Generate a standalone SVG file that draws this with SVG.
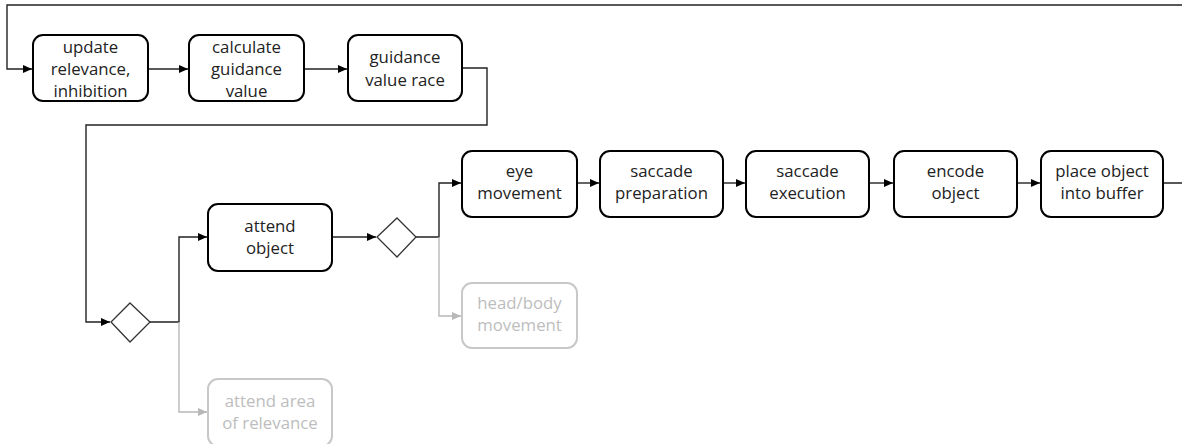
<svg xmlns="http://www.w3.org/2000/svg" width="1182" height="444" viewBox="0 0 1182 444">
<style>
.box{fill:#fff;stroke:#000;stroke-width:2}
.gbox{fill:#fff;stroke:#c8c8c8;stroke-width:2}
.dia{fill:#fff;stroke:#333;stroke-width:1.3}
.t{font-family:"Open Sans",sans-serif;font-size:16.8px;fill:#222;text-anchor:middle}
.gt{font-family:"Open Sans",sans-serif;font-size:16.8px;fill:#bdbdbd;text-anchor:middle}
.ln{fill:none;stroke:#222;stroke-width:1.4}
.gln{fill:none;stroke:#b8b8b8;stroke-width:1.4}
</style>
<defs>
<marker id="a" markerWidth="9" markerHeight="8" refX="9" refY="4" orient="auto" markerUnits="userSpaceOnUse"><path d="M0,0 L9,4 L0,8 Z" fill="#000"/></marker>
<marker id="ga" markerWidth="9" markerHeight="8" refX="9" refY="4" orient="auto" markerUnits="userSpaceOnUse"><path d="M0,0 L9,4 L0,8 Z" fill="#b8b8b8"/></marker>
</defs>
<rect width="1182" height="444" fill="#fff"/>
<g id="connectors">
<path class="ln" d="M1163,183 H1184 M1184,5 H7 V69 H32" marker-end="url(#a)"/>
<path class="ln" d="M148,69 H188" marker-end="url(#a)"/>
<path class="ln" d="M304,69 H347" marker-end="url(#a)"/>
<path class="ln" d="M462,68 H487 V125 H86 V322 H110" marker-end="url(#a)"/>
<path class="ln" d="M150,322 H179 V237 H207" marker-end="url(#a)"/>
<path class="gln" d="M179,322 V412 H207" marker-end="url(#ga)"/>
<path class="ln" d="M332,237 H376" marker-end="url(#a)"/>
<path class="ln" d="M416,237 H439 V183 H461" marker-end="url(#a)"/>
<path class="gln" d="M439,237 V316 H461" marker-end="url(#ga)"/>
<path class="ln" d="M577,183 H599" marker-end="url(#a)"/>
<path class="ln" d="M723,183 H745" marker-end="url(#a)"/>
<path class="ln" d="M869,183 H893" marker-end="url(#a)"/>
<path class="ln" d="M1017,183 H1040" marker-end="url(#a)"/>
</g>
<g id="n1"><rect class="box" x="33" y="35" width="115" height="66" rx="10"/><text class="t" x="90.5" y="53">update</text><text class="t" x="90.5" y="75">relevance,</text><text class="t" x="90.5" y="97">inhibition</text></g>
<g id="n2"><rect class="box" x="189" y="35" width="115" height="66" rx="10"/><text class="t" x="246.5" y="53">calculate</text><text class="t" x="246.5" y="75">guidance</text><text class="t" x="246.5" y="97">value</text></g>
<g id="n3"><rect class="box" x="348" y="35" width="114" height="66" rx="10"/><text class="t" x="405" y="63">guidance</text><text class="t" x="405" y="86">value race</text></g>
<g id="d1"><path class="dia" d="M130,303 L150,322 L130,342 L111,322 Z"/></g>
<g id="n4"><rect class="box" x="208" y="204" width="124" height="67" rx="10"/><text class="t" x="270" y="232">attend</text><text class="t" x="270" y="254">object</text></g>
<g id="n5"><rect class="gbox" x="208" y="379" width="124" height="67" rx="10"/><text class="gt" x="270" y="407">attend area</text><text class="gt" x="270" y="429">of relevance</text></g>
<g id="d2"><path class="dia" d="M397,218 L416,237 L397,257 L377,237 Z"/></g>
<g id="n6"><rect class="box" x="462" y="151" width="115" height="66" rx="10"/><text class="t" x="519.5" y="177">eye</text><text class="t" x="519.5" y="199">movement</text></g>
<g id="n7"><rect class="gbox" x="462" y="283" width="115" height="65" rx="10"/><text class="gt" x="519.5" y="309">head/body</text><text class="gt" x="519.5" y="331">movement</text></g>
<g id="n8"><rect class="box" x="600" y="151" width="123" height="66" rx="10"/><text class="t" x="661.5" y="177">saccade</text><text class="t" x="661.5" y="199">preparation</text></g>
<g id="n9"><rect class="box" x="746" y="151" width="123" height="66" rx="10"/><text class="t" x="807.5" y="177">saccade</text><text class="t" x="807.5" y="199">execution</text></g>
<g id="n10"><rect class="box" x="894" y="151" width="123" height="66" rx="10"/><text class="t" x="955.5" y="177">encode</text><text class="t" x="955.5" y="199">object</text></g>
<g id="n11"><rect class="box" x="1041" y="151" width="122" height="66" rx="10"/><text class="t" x="1102" y="177">place object</text><text class="t" x="1102" y="199">into buffer</text></g>
</svg>
